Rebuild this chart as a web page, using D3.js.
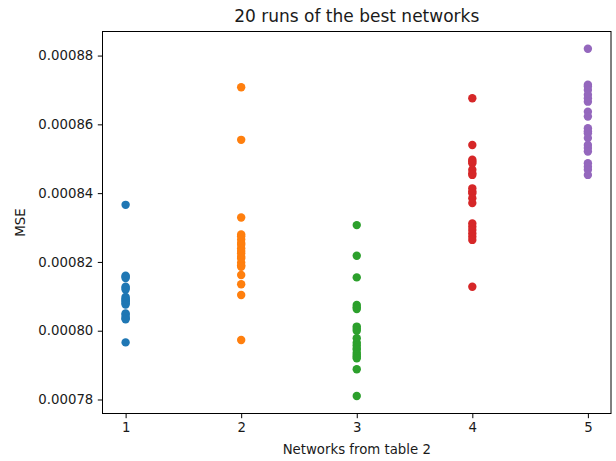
<!DOCTYPE html>
<html>
<head>
<meta charset="utf-8">
<script src="https://cdn.jsdelivr.net/npm/d3@7"></script>
<style>
  html, body { margin: 0; padding: 0; background: #fff; }
  svg { display: block; font-family: "DejaVu Sans", sans-serif; }
  .axis path, .axis line { stroke: #000; stroke-width: 1; }
  .axis text { fill: #1a1a1a; font-size: 13.3px; font-family: "DejaVu Sans", sans-serif; }
</style>
</head>
<body>
<svg id="chart" width="616" height="461"></svg>
<script>
// networks on the x axis
var networks = [1, 2, 3, 4, 5];
var colors = ['#1f77b4', '#ff7f0e', '#2ca02c', '#d62728', '#9467bd'];

// MSE of the 20 runs for each network
var runs1 = [0.0008366, 0.0008160, 0.0008157, 0.0008153, 0.0008128, 0.0008124, 0.0008120, 0.0008098,
  0.0008094, 0.0008090, 0.0008087, 0.0008084, 0.0008080, 0.0008076, 0.0008050, 0.0008047,
  0.0008040, 0.0008036, 0.0008033, 0.0007966];
var runs2 = [0.0008708, 0.0008555, 0.0008329, 0.0008280, 0.0008275, 0.0008265, 0.0008255, 0.0008250,
  0.0008240, 0.0008232, 0.0008225, 0.0008215, 0.0008210, 0.0008198, 0.0008190, 0.0008186,
  0.0008162, 0.0008135, 0.0008104, 0.0007973];
var runs3 = [0.0008307, 0.0008218, 0.0008155, 0.0008075, 0.0008068, 0.0008063, 0.0008012, 0.0008006,
  0.0008000, 0.0007978, 0.0007965, 0.0007958, 0.0007950, 0.0007945, 0.0007936, 0.0007930,
  0.0007925, 0.0007920, 0.0007888, 0.0007810];
var runs4 = [0.0008676, 0.0008540, 0.0008497, 0.0008492, 0.0008487, 0.0008468, 0.0008458, 0.0008453,
  0.0008414, 0.0008405, 0.0008400, 0.0008385, 0.0008371, 0.0008312, 0.0008302, 0.0008293,
  0.0008283, 0.0008273, 0.0008264, 0.0008128];
var runs5 = [0.0008820, 0.0008715, 0.0008710, 0.0008700, 0.0008686, 0.0008676, 0.0008666, 0.0008637,
  0.0008623, 0.0008589, 0.0008580, 0.0008574, 0.0008560, 0.0008540, 0.0008531, 0.0008521,
  0.0008487, 0.0008477, 0.0008468, 0.0008453];
var allRuns = [runs1, runs2, runs3, runs4, runs5];

var yTicks = [0.00078, 0.00080, 0.00082, 0.00084, 0.00086, 0.00088];
var title = '20 runs of the best networks';
var xLabel = 'Networks from table 2';
var yLabel = 'MSE';

var margin = { left: 102.5, right: 5, top: 31.5, bottom: 47.5 };
var W = 616, H = 461;
var svg = d3.select('#chart');

var x = d3.scaleLinear().domain([0.8, 5.2]).range([margin.left, W - margin.right]);
var y = d3.scaleLinear().domain([0.000775926, 0.000887]).range([H - margin.bottom, margin.top]);

// points
allRuns.forEach(function(vals, i) {
  svg.append('g').selectAll('circle')
    .data(vals)
    .enter().append('circle')
    .attr('cx', x(networks[i]))
    .attr('cy', function(d) { return y(d); })
    .attr('r', 4.2)
    .attr('fill', colors[i]);
});

// axes
svg.append('g')
  .attr('class', 'axis')
  .attr('transform', 'translate(0,' + (H - margin.bottom) + ')')
  .call(d3.axisBottom(x).tickValues(networks).tickFormat(d3.format('d')).tickSize(4.7).tickPadding(4.5).tickSizeOuter(0))
  .call(function(g) { g.select('.domain').remove(); });

svg.append('g')
  .attr('class', 'axis')
  .attr('transform', 'translate(' + margin.left + ',0)')
  .call(d3.axisLeft(y).tickValues(yTicks).tickFormat(d3.format('.5f')).tickSize(4.7).tickPadding(4.5).tickSizeOuter(0))
  .call(function(g) { g.select('.domain').remove(); });

// frame
svg.append('rect')
  .attr('x', margin.left)
  .attr('y', margin.top)
  .attr('width', W - margin.right - margin.left)
  .attr('height', H - margin.bottom - margin.top)
  .attr('fill', 'none')
  .attr('stroke', '#000')
  .attr('stroke-width', 1);

// labels
svg.append('text')
  .attr('x', (margin.left + W - margin.right) / 2)
  .attr('y', 22)
  .attr('text-anchor', 'middle')
  .attr('font-size', '17px')
  .attr('fill', '#1a1a1a')
  .text(title);

svg.append('text')
  .attr('x', (margin.left + W - margin.right) / 2)
  .attr('y', 454)
  .attr('text-anchor', 'middle')
  .attr('font-size', '13.3px')
  .attr('fill', '#1a1a1a')
  .text(xLabel);

svg.append('text')
  .attr('transform', 'translate(25,' + ((margin.top + H - margin.bottom) / 2) + ') rotate(-90)')
  .attr('text-anchor', 'middle')
  .attr('font-size', '13.3px')
  .attr('fill', '#1a1a1a')
  .text(yLabel);
</script>
</body>
</html>
